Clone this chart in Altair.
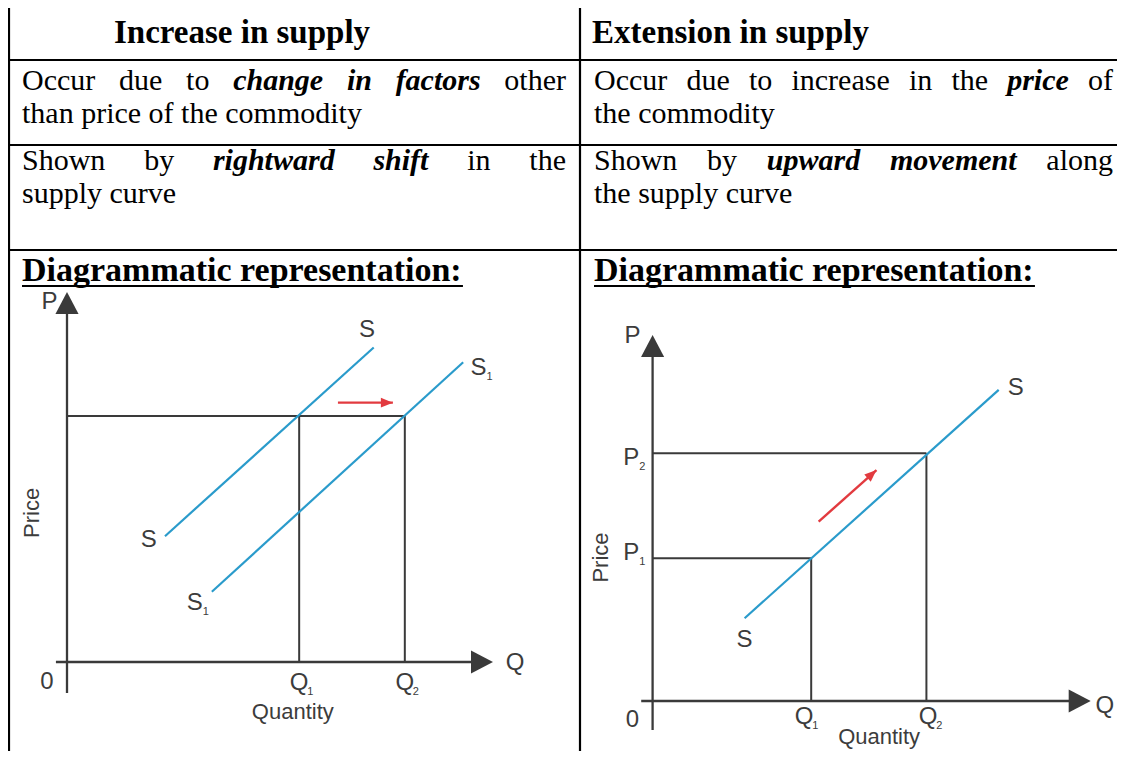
import math
import altair as alt
import pandas as pd

# ======================= table content =======================
header_left = "Increase in supply"
header_right = "Extension in supply"
heading = "Diagrammatic representation:"

# each line is a list of (text, style); r = regular, bi = bold italic
row2_left = [
    [("Occur due to", "r"), ("change in factors", "bi"), ("other", "r")],
    [("than price of the commodity", "r")],
]
row2_right = [
    [("Occur due to increase in the", "r"), ("price", "bi"), ("of", "r")],
    [("the commodity", "r")],
]
row3_left = [
    [("Shown by", "r"), ("rightward shift", "bi"), ("in the", "r")],
    [("supply curve", "r")],
]
row3_right = [
    [("Shown by", "r"), ("upward movement", "bi"), ("along", "r")],
    [("the supply curve", "r")],
]

# ============ diagram 1 : increase in supply (shift of the curve) ============
inc_curve = ["S", "S", "S1", "S1"]
inc_q = [23, 72, 34, 93]
inc_p = [34, 85, 19, 81]
inc_Q1, inc_Q2, inc_P = 54.5, 79.3, 66.5
inc_arrow_q = [63.6, 76.5]
inc_arrow_p = [70.1, 70.1]
inc_lab_text = ["P", "S", "S", "S", "S", "Q", "0", "Q", "Q"]
inc_lab_sub = ["", "", "1", "", "1", "", "", "1", "2"]
inc_lab_q = [-4.1, 70.4, 96.6, 19.2, 30.0, 105.2, -4.7, 54.5, 79.3]
inc_lab_p = [97.4, 89.7, 79.5, 33.0, 15.9, -0.3, -5.3, -5.7, -5.7]
inc_word_text = ["Quantity", "Price"]
inc_word_q = [53.0, -8.1]
inc_word_p = [-13.4, 40.3]

# ============ diagram 2 : extension in supply (movement along) ============
ext_curve = ["S", "S"]
ext_q = [21, 79]
ext_p = [22.6, 85]
ext_Q1, ext_Q2, ext_P1, ext_P2 = 36.2, 62.5, 39.0, 67.7
ext_arrow_q = [37.9, 51.1]
ext_arrow_p = [49.0, 63.1]
ext_lab_text = ["P", "P", "P", "S", "S", "Q", "0", "Q", "Q"]
ext_lab_sub = ["", "2", "1", "", "", "", "", "1", "2"]
ext_lab_q = [-4.6, -4.9, -4.9, 82.9, 21.0, 103.2, -4.6, 34.6, 62.9]
ext_lab_p = [99.7, 66.3, 40.4, 85.4, 16.7, -1.5, -5.2, -4.5, -4.5]
ext_word_text = ["Quantity", "Price"]
ext_word_q = [51.7, -11.7]
ext_word_p = [-9.9, 39.2]

# ======================= layout / style =======================
OX, OY = 8, 8                       # page margin
W, H = 1109, 743                    # drawable size
SERIF = "Liberation Serif"
SANS = "Liberation Sans"
BODY, BOLD, HEAD = 30, 33, 34
BLUE, RED, GRAY, LABEL = "#2a9bcb", "#e23a3f", "#3a3a3a", "#3c3c3c"

page_x = alt.Scale(domain=[OX, OX + W], range=[0, W])
page_y = alt.Scale(domain=[OY, OY + H], range=[0, H])

# Times-compatible advance widths (1/1000 em)
TR = {' ': 250, 'a': 444, 'b': 500, 'c': 444, 'd': 500, 'e': 444, 'f': 333, 'g': 500,
      'h': 500, 'i': 278, 'l': 278, 'm': 778, 'n': 500, 'o': 500, 'p': 500, 'r': 333,
      's': 389, 't': 278, 'u': 500, 'v': 500, 'w': 722, 'y': 500, 'O': 722, 'S': 556}
TBI = {' ': 250, 'a': 500, 'c': 444, 'd': 500, 'e': 444, 'f': 333, 'g': 500, 'h': 556,
       'i': 278, 'm': 778, 'n': 556, 'o': 500, 'p': 500, 'r': 389, 's': 389, 't': 278,
       'u': 556, 'v': 444, 'w': 667}
TB = {' ': 250, 'a': 500, 'c': 444, 'd': 556, 'e': 444, 'g': 500, 'i': 278, 'l': 278,
      'm': 833, 'n': 556, 'o': 500, 'p': 556, 'r': 444, 's': 389, 't': 333, 'u': 556,
      'x': 500, 'y': 500, 'D': 722, 'E': 667, 'I': 389, ':': 333}
METRIC = {"r": TR, "bi": TBI, "b": TB}


def tw(text, style, size):
    m = METRIC[style]
    return sum(m.get(ch, 500) for ch in text) / 1000.0 * size


def layout_cell(lines, x0, x1, baselines, size):
    out = []
    for li, (segs, y) in enumerate(zip(lines, baselines)):
        justify = li < len(lines) - 1
        words = [(w, s) for t, s in segs for w in t.split()]
        if justify and len(words) > 1:
            widths = [tw(w, s, size) for w, s in words]
            gap = (x1 - x0 - sum(widths)) / (len(words) - 1)
            x = x0
            for i, ((w, s), wd) in enumerate(zip(words, widths)):
                if i == len(words) - 1:
                    out.append(dict(text=w, style=s, align="right", x=x1, y=y, size=size))
                else:
                    out.append(dict(text=w, style=s, align="left", x=x, y=y, size=size))
                x += wd + gap
        else:
            x = x0
            for t, s in segs:
                out.append(dict(text=t, style=s, align="left", x=x, y=y, size=size))
                x += tw(t, s, size) + tw(" ", "r", size)
    return out


LEFT_X0, LEFT_X1 = 22, 566
RIGHT_X0, RIGHT_X1 = 594, 1113
texts = []
texts += layout_cell(row2_left, LEFT_X0, LEFT_X1, [90, 123], BODY)
texts += layout_cell(row2_right, RIGHT_X0, RIGHT_X1, [90, 123], BODY)
texts += layout_cell(row3_left, LEFT_X0, LEFT_X1, [170, 203], BODY)
texts += layout_cell(row3_right, RIGHT_X0, RIGHT_X1, [170, 203], BODY)
texts.append(dict(text=header_left, style="b", align="center", x=242, y=43, size=BOLD))
texts.append(dict(text=header_right, style="b", align="left", x=592, y=43, size=BOLD))
texts.append(dict(text=heading, style="b", align="left", x=LEFT_X0, y=281, size=HEAD))
texts.append(dict(text=heading, style="b", align="left", x=RIGHT_X0, y=281, size=HEAD))
text_df = pd.DataFrame(texts)

hw = tw(heading, "b", HEAD)
grid = pd.DataFrame(
    [dict(x=OX, x2=1125, y=yy, y2=yy) for yy in [7, 60, 145, 250]]
    + [dict(x=xx, x2=xx, y=7, y2=759) for xx in [9, 580]]
    + [dict(x=LEFT_X0, x2=LEFT_X0 + hw, y=286, y2=286),
       dict(x=RIGHT_X0, x2=RIGHT_X0 + hw, y=286, y2=286)]
)

layers = []
layers.append(
    alt.Chart(grid).mark_rule(color="black", strokeWidth=2.2).encode(
        x=alt.X("x:Q", scale=page_x, axis=None), x2="x2:Q",
        y=alt.Y("y:Q", scale=page_y, axis=None), y2="y2:Q")
)
STY = {"r": dict(fontWeight="normal", fontStyle="normal"),
       "bi": dict(fontWeight="bold", fontStyle="italic"),
       "b": dict(fontWeight="bold", fontStyle="normal")}
for (style, align, size), sub in text_df.groupby(["style", "align", "size"]):
    layers.append(
        alt.Chart(sub).mark_text(font=SERIF, fontSize=float(size), align=align,
                                 baseline="alphabetic", color="black", **STY[style]).encode(
            x=alt.X("x:Q", scale=page_x, axis=None),
            y=alt.Y("y:Q", scale=page_y, axis=None),
            text="text:N")
    )

UP = "M0,0L-1.05,2L1.05,2Z"
RIGHT = "M0,0L-2,-1.05L-2,1.05Z"
RED_HEAD = "M0,0L-2,-0.8L-2,0.8Z"


def diagram(box, curve, q, p, guides, ybot, xleft, arrow_q, arrow_p,
            lab_text, lab_sub, lab_q, lab_p, word_text, word_q, word_p):
    (px0, px1), (py0, py1) = box
    xs = alt.Scale(domain=[0, 100], range=[px0 - OX, px1 - OX])
    ys = alt.Scale(domain=[0, 100], range=[py0 - OY, py1 - OY])
    X = alt.X("q:Q", scale=xs, axis=None)
    Y = alt.Y("p:Q", scale=ys, axis=None)
    out = []
    gd = pd.DataFrame(guides, columns=["q", "p", "q2", "p2"])
    out.append(alt.Chart(gd).mark_rule(color=GRAY, strokeWidth=2).encode(
        x=X, y=Y, x2="q2:Q", y2="p2:Q"))
    ax = pd.DataFrame([[0, ybot, 0, 95], [xleft, 0, 96, 0]], columns=["q", "p", "q2", "p2"])
    out.append(alt.Chart(ax).mark_rule(color=GRAY, strokeWidth=2.3).encode(
        x=X, y=Y, x2="q2:Q", y2="p2:Q"))
    out.append(alt.Chart(pd.DataFrame({"q": [0], "p": [100]})).mark_point(
        shape=UP, size=484, filled=True, color=GRAY, opacity=1).encode(x=X, y=Y))
    out.append(alt.Chart(pd.DataFrame({"q": [100], "p": [0]})).mark_point(
        shape=RIGHT, size=484, filled=True, color=GRAY, opacity=1).encode(x=X, y=Y))
    cd = pd.DataFrame({"curve": curve, "q": q, "p": p})
    out.append(alt.Chart(cd).mark_line(color=BLUE, strokeWidth=2.2).encode(
        x=X, y=Y, detail="curve:N"))
    ad = pd.DataFrame({"q": [arrow_q[0]], "p": [arrow_p[0]], "q2": [arrow_q[1]], "p2": [arrow_p[1]]})
    out.append(alt.Chart(ad).mark_rule(color=RED, strokeWidth=2.4).encode(
        x=X, y=Y, x2="q2:Q", y2="p2:Q"))
    kx = (px1 - px0) / 100.0
    ky = (py0 - py1) / 100.0
    ang = -math.degrees(math.atan2((arrow_p[1] - arrow_p[0]) * ky, (arrow_q[1] - arrow_q[0]) * kx))
    ang = ang % 360
    out.append(alt.Chart(pd.DataFrame({"q": [arrow_q[1]], "p": [arrow_p[1]]})).mark_point(
        shape=RED_HEAD, size=144, filled=True, color=RED, opacity=1, angle=ang).encode(x=X, y=Y))
    ld = pd.DataFrame({"t": lab_text, "s": lab_sub, "q": lab_q, "p": lab_p})
    out.append(alt.Chart(ld).mark_text(font=SANS, fontSize=24, color=LABEL,
                                       align="center", baseline="middle").encode(x=X, y=Y, text="t:N"))
    sd = ld[ld["s"] != ""]
    out.append(alt.Chart(sd).mark_text(font=SANS, fontSize=11, color=LABEL, align="left",
                                       baseline="middle", dx=8, dy=9).encode(x=X, y=Y, text="s:N"))
    wd = pd.DataFrame({"t": word_text, "q": word_q, "p": word_p,
                       "a": [0 if w != "Price" else 270 for w in word_text]})
    out.append(alt.Chart(wd).mark_text(font=SANS, fontSize=22, color=LABEL, align="center",
                                       baseline="middle").encode(
        x=X, y=Y, text="t:N", angle=alt.Angle("a:Q", scale=None)))
    return out


inc_guides = [[0, inc_P, inc_Q2, inc_P], [inc_Q1, 0, inc_Q1, inc_P], [inc_Q2, 0, inc_Q2, inc_P]]
layers += diagram(((67, 493), (662, 292)), inc_curve, inc_q, inc_p, inc_guides, -8.4, -2.6,
                  inc_arrow_q, inc_arrow_p, inc_lab_text, inc_lab_sub, inc_lab_q, inc_lab_p,
                  inc_word_text, inc_word_q, inc_word_p)

ext_guides = [[0, ext_P1, ext_Q1, ext_P1], [ext_Q1, 0, ext_Q1, ext_P1],
              [0, ext_P2, ext_Q2, ext_P2], [ext_Q2, 0, ext_Q2, ext_P2]]
layers += diagram(((652.6, 1090.7), (701, 335)), ext_curve, ext_q, ext_p, ext_guides, -7.9, -2.6,
                  ext_arrow_q, ext_arrow_p, ext_lab_text, ext_lab_sub, ext_lab_q, ext_lab_p,
                  ext_word_text, ext_word_q, ext_word_p)

chart = alt.layer(*layers).resolve_scale(x="independent", y="independent").properties(
    width=W, height=H, padding=0, autosize=alt.AutoSizeParams(type="none"),
    background="white",
).configure_view(stroke=None)

chart.save("out.html", embed_options={"renderer": "svg", "actions": False})
